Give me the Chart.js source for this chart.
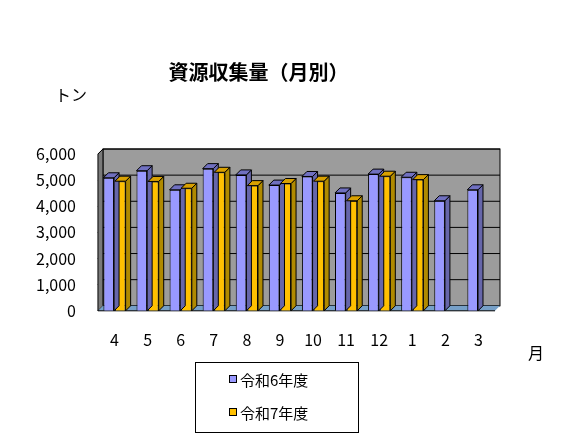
<!DOCTYPE html>
<html><head><meta charset="utf-8">
<script src="https://cdn.jsdelivr.net/npm/chart.js@4/dist/chart.umd.min.js"></script>
<style>body{margin:0;background:#fff}#wrap{width:586px;height:438px}</style>
</head><body><div id="wrap"><canvas id="c"></canvas></div>
<script>
var months = ['4', '5', '6', '7', '8', '9', '10', '11', '12', '1', '2', '3'];
var r6 = [5090, 5360, 4630, 5440, 5200, 4810, 5140, 4510, 5230, 5110, 4210, 4630];
var r7 = [4960, 4950, 4690, 5300, 4790, 4870, 4960, 4210, 5150, 5020, null, null];
var seriesNames = ['令和6年度', '令和7年度'];
var yTicks = [0, 1000, 2000, 3000, 4000, 5000, 6000];
var font = '"Noto Sans CJK JP", "Liberation Sans", sans-serif';

var D = 5; // depth offset of the fake 3D

var threeD = {
  id: 'threeD',
  beforeDatasetsDraw: function(chart){
    var ctx = chart.ctx, a = chart.chartArea;
    ctx.save();
    // back wall
    ctx.fillStyle = '#9c9c9c';
    ctx.fillRect(a.left + D, a.top - D, a.right - a.left, a.bottom - a.top);
    ctx.strokeStyle = '#000'; ctx.lineWidth = 1;
    var y = chart.scales.y;
    yTicks.forEach(function(t){
      var py = y.getPixelForValue(t) - D;
      ctx.beginPath(); ctx.moveTo(a.left + D, py); ctx.lineTo(a.right + D, py); ctx.stroke();
      ctx.beginPath(); ctx.moveTo(a.left, py + D); ctx.lineTo(a.left + D, py); ctx.stroke();
    });
    ctx.strokeRect(a.left + D, a.top - D, a.right - a.left, a.bottom - a.top);
    // left wall
    ctx.fillStyle = '#7a7a7a';
    ctx.beginPath(); ctx.moveTo(a.left, a.top); ctx.lineTo(a.left + D, a.top - D);
    ctx.lineTo(a.left + D, a.bottom - D); ctx.lineTo(a.left, a.bottom); ctx.closePath(); ctx.fill(); ctx.stroke();
    // floor
    ctx.fillStyle = '#76a0c8';
    ctx.beginPath(); ctx.moveTo(a.left, a.bottom); ctx.lineTo(a.left + D, a.bottom - D);
    ctx.lineTo(a.right + D, a.bottom - D); ctx.lineTo(a.right, a.bottom); ctx.closePath(); ctx.fill();
    ctx.strokeStyle = '#000';
    ctx.beginPath(); ctx.moveTo(a.left, a.bottom); ctx.lineTo(a.right, a.bottom); ctx.stroke();
    ctx.restore();
  },
  afterDatasetsDraw: function(chart){
    var ctx = chart.ctx;
    var sides = ['#6666aa', '#b08a00'], tops = ['#7070c0', '#d8a000'];
    ctx.save(); ctx.strokeStyle = '#000'; ctx.lineWidth = 1;
    chart.data.datasets.forEach(function(ds, i){
      chart.getDatasetMeta(i).data.forEach(function(bar, j){
        if (ds.data[j] == null) return;
        var l = bar.x - bar.width / 2, r = bar.x + bar.width / 2, t = bar.y, b = bar.base;
        ctx.fillStyle = sides[i];
        ctx.beginPath(); ctx.moveTo(r, t); ctx.lineTo(r + D, t - D); ctx.lineTo(r + D, b - D); ctx.lineTo(r, b); ctx.closePath(); ctx.fill(); ctx.stroke();
        ctx.fillStyle = tops[i];
        ctx.beginPath(); ctx.moveTo(l, t); ctx.lineTo(l + D, t - D); ctx.lineTo(r + D, t - D); ctx.lineTo(r, t); ctx.closePath(); ctx.fill(); ctx.stroke();
      });
    });
    ctx.restore();
  },
  afterDraw: function(chart){
    var ctx = chart.ctx;
    ctx.save();
    ctx.fillStyle = '#000'; ctx.font = '16px ' + font;
    ctx.fillText('トン', 55, 101);
    ctx.fillText('月', 528, 359);
    // legend box
    ctx.strokeStyle = '#000'; ctx.lineWidth = 1;
    ctx.strokeRect(195.5, 362.5, 163, 70);
    var cols = ['#9999ff', '#ffc000'];
    seriesNames.forEach(function(n, i){
      var y = 380 + i * 33;
      ctx.fillStyle = cols[i]; ctx.fillRect(229, y - 5, 8, 8); ctx.strokeRect(229.5, y - 4.5, 7, 7);
      ctx.fillStyle = '#000'; ctx.font = '15px ' + font; ctx.textBaseline = 'middle';
      ctx.fillText(n, 240, y);
    });
    ctx.restore();
  }
};

new Chart(document.getElementById('c'), {
  type: 'bar',
  data: {
    labels: months,
    datasets: [
      { label: seriesNames[0], data: r6, backgroundColor: '#9999ff', borderColor: '#000', borderWidth: 1 },
      { label: seriesNames[1], data: r7, backgroundColor: '#ffc000', borderColor: '#000', borderWidth: 1 }
    ]
  },
  options: {
    responsive: true, maintainAspectRatio: false, animation: false,
    layout: { padding: { left: 22, right: 91, top: 10, bottom: 76 } },
    categoryPercentage: 0.7, barPercentage: 0.92,
    plugins: {
      legend: { display: false }, tooltip: { enabled: false },
      title: { display: true, text: '資源収集量（月別）', color: '#000',
        font: { family: font, size: 20, weight: 'bold' }, padding: { top: 50, bottom: 70 } }
    },
    scales: {
      x: { grid: { display: false }, border: { display: false },
        ticks: { color: '#000', font: { family: font, size: 16 }, padding: 12 } },
      y: { min: 0, max: 6000, grid: { display: false }, border: { display: false },
        afterBuildTicks: function(s){ s.ticks = yTicks.map(function(v){ return { value: v }; }); },
        ticks: { color: '#000', font: { family: font, size: 16 }, padding: 14,
          callback: function(v){ return v.toLocaleString('en-US'); } } }
    }
  },
  plugins: [threeD]
});
</script></body></html>
